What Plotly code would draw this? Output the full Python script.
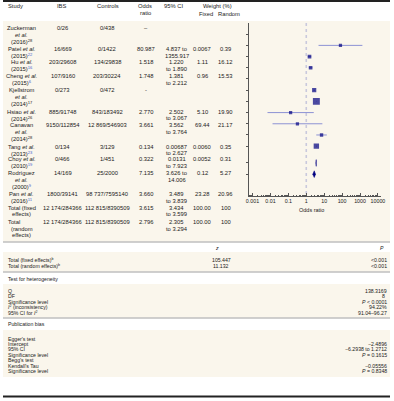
import math
import plotly.graph_objects as go

W, H = 394, 401
FONT = "Liberation Sans, Arial, sans-serif"
TXT = "#1a1a1a"
BEIGE = "#faf6ec"
NAVY = "#000080"
CI_COL = "#8d92d4"
LINK = "#3b5fd0"

# ---------------- data ----------------
study_names = ["Zuckerman", "Patel", "Hu", "Cheng", "Kjellstrom", "Hsiao",
               "Canavan", "Tang", "Choy", "Rodríguez", "Pan"]
study_years = [2016, 2015, 2015, 2015, 2014, 2014, 2014, 2013, 2010, 2000, 2016]
study_refs = [28, 22, 16, 6, 17, 26, 28, 23, 19, 9, 11]
ref_linked = [False, True, True, True, False, False, False, True, True, True, True]

ibs = ["0/26", "16/669", "203/29608", "107/9160", "0/273", "885/91748",
       "9150/112854", "0/134", "0/466", "14/169", "1800/39141"]
controls = ["0/438", "0/1422", "134/29838", "203/30224", "0/472", "843/183492",
            "12 869/546903", "3/129", "1/451", "25/2000", "98 737/7595140"]
odds_text = ["–", "80.987", "1.518", "1.748", "-", "2.770", "3.661", "0.134",
             "0.322", "7.135", "3.660"]
ci_text = [[], ["4.837 to", "1355.917"], ["1.220", "to 1.890"], ["1.381", "to 2.212"],
           [], ["2.502", "to 3.067"], ["3.562", "to 3.764"], ["0.00687", "to 2.627"],
           ["0.0131", "to 7.923"], ["3.626 to", "14.006"], ["3.489", "to 3.839"]]
w_fixed_text = ["", "0.0067", "1.11", "0.96", "", "5.10", "69.44", "0.0060",
                "0.0052", "0.12", "23.28"]
w_random_text = ["", "0.39", "16.12", "15.53", "", "19.90", "21.17", "0.35",
                 "0.31", "5.27", "20.96"]

odds_ratio = [None, 80.987, 1.518, 1.748, None, 2.770, 3.661, 0.134, 0.322, 7.135, 3.660]
ci_low = [None, 4.837, 1.220, 1.381, None, 2.502, 3.562, 0.00687, 0.0131, 3.626, 3.489]
ci_high = [None, 1355.917, 1.890, 2.212, None, 3.067, 3.764, 2.627, 7.923, 14.006, 3.839]
weight_fixed = [None, 0.0067, 1.11, 0.96, None, 5.10, 69.44, 0.0060, 0.0052, 0.12, 23.28]

total_labels = [["Total (fixed", "effects)"], ["Total", "(random", "effects)"]]
total_ibs = ["12 174/284366", "12 174/284366"]
total_controls = ["112 815/8390509", "112 815/8390509"]
total_odds_text = ["3.615", "2.796"]
total_ci_text = [["3.434", "to 3.599"], ["2.305", "to 3.294"]]
total_wf_text = ["100.00", "100.00"]
total_wr_text = ["100", "100"]
total_or = [3.615, 2.796]
total_lo = [3.434, 2.305]
total_hi = [3.599, 3.294]

axis_ticks = [0.001, 0.01, 0.1, 1, 10, 100, 1000, 10000]
axis_labels = ["0.001", "0.01", "0.1", "1", "10", "100", "1000", "10000"]

summary_labels = ["Total (fixed effects)<sup>b</sup>", "Total (random effects)<sup>b</sup>"]
z_vals = ["105.447", "11.132"]
p_vals = ["&lt;0.001", "&lt;0.001"]
het_labels = ["Q", "DF", "Significance level", "<i>I</i><sup>2</sup> (inconsistency)",
              "95% CI for <i>I</i><sup>2</sup>"]
het_vals = ["138.3169", "8", "<i>P</i> &lt; 0.0001", "94.22%", "91.04–96.27"]
pub_labels = ["Egger's test", "Intercept", "95% CI", "Significance level",
              "Begg's test", "Kendall's Tau", "Significance level"]
pub_vals = ["", "−2.4896", "−6.2938 to 1.2712", "<i>P</i> = 0.1615", "",
            "−0.05556", "<i>P</i> = 0.8348"]

# ---------------- figure ----------------
fig = go.Figure()


def px_x(x):
    return x / W


def px_y(y):
    return 1 - y / H


def ann(x, y, text, anchor="center", size=5.8, color=TXT, italic=False):
    fig.add_annotation(x=px_x(x), y=px_y(y), xref="paper", yref="paper", text=text,
                       showarrow=False, xanchor=anchor, yanchor="middle", borderpad=0,
                       font=dict(size=size, color=color, family=FONT,
                                 style="italic" if italic else "normal"))


def band(y0, y1, color):
    fig.add_shape(type="rect", xref="paper", yref="paper", x0=0, x1=1,
                  y0=px_y(y1), y1=px_y(y0), fillcolor=color, line=dict(width=0),
                  layer="below")


def hline(y, color, width):
    fig.add_shape(type="line", xref="paper", yref="paper", x0=0, x1=1,
                  y0=px_y(y), y1=px_y(y), line=dict(color=color, width=width))


# backgrounds & rules
band(21, 241.5, BEIGE)
band(252, 271.5, BEIGE)
band(284, 317.5, BEIGE)
band(330, 377, BEIGE)
hline(1, "#222222", 2)
hline(242, "#a0a0a0", 1)
hline(272, "#a0a0a0", 1)
hline(318, "#a0a0a0", 1)
hline(396.5, "#222222", 2)

# header
ann(4, 6, "Study", "left")
ann(60, 6, "IBS")
ann(107, 6, "Controls")
ann(145, 6, "Odds")
ann(145, 13, "ratio")
ann(174, 6, "95% CI")
ann(218, 6, "Weight (%)")
ann(207, 14, "Fixed")
ann(230, 14, "Random")

# table rows
row_top = [28.3, 49, 62.3, 76.3, 90, 111.7, 125.3, 146.7, 159.3, 173.3, 194.3]
total_top = [207.7, 222]
LS = 6.6
COLS = dict(ibs=61, ctl=106, odds=146, ci=177, wf=203, wr=227, study=19)

for i, name in enumerate(study_names):
    sup = f"<sup>{study_refs[i]}</sup>"
    if ref_linked[i]:
        sup = f"<span style='color:{LINK}'>{sup}</span>"
    year = f"({study_years[i]}){sup}"
    y0 = row_top[i]
    if len(name) > 5:
        ann(COLS["study"], y0, name)
        ann(COLS["study"], y0 + LS, "et al.", italic=True)
        ann(COLS["study"], y0 + 2 * LS, year)
    else:
        ann(COLS["study"], y0, f"{name} <i>et al.</i>")
        ann(COLS["study"], y0 + LS, year)
    ann(COLS["ibs"], y0, ibs[i])
    ann(COLS["ctl"], y0, controls[i])
    ann(COLS["odds"], y0, odds_text[i])
    for k, ln in enumerate(ci_text[i]):
        ann(COLS["ci"], y0 + k * LS, ln)
    if w_fixed_text[i]:
        ann(COLS["wf"], y0, w_fixed_text[i])
        ann(COLS["wr"], y0, w_random_text[i])

for j in range(2):
    y0 = total_top[j]
    for k, ln in enumerate(total_labels[j]):
        if ln == "Total":
            ann(4, y0 + k * LS, ln, "left")
        else:
            ann(COLS["study"], y0 + k * LS, ln)
    ann(COLS["ibs"], y0, total_ibs[j])
    ann(COLS["ctl"], y0, total_controls[j])
    ann(COLS["odds"], y0, total_odds_text[j])
    for k, ln in enumerate(total_ci_text[j]):
        ann(COLS["ci"], y0 + k * LS, ln)
    ann(COLS["wf"], y0, total_wf_text[j])
    ann(COLS["wr"], y0, total_wr_text[j])

# ---------------- forest plot ----------------
rows = list(range(len(study_names)))
total_rows = [len(study_names) + 0.5, len(study_names) + 1.5]

ci_x, ci_y = [], []
for r, lo, hi in zip(rows, ci_low, ci_high):
    if lo is None:
        continue
    ci_x += [lo, hi, None]
    ci_y += [r, r, None]

fig.add_trace(go.Scatter(x=[1, 1], y=[-1.0, 14.45], mode="lines",
                         line=dict(color="#c9c9dd", width=1.6, dash="dot"),
                         hoverinfo="skip", showlegend=False))
fig.add_trace(go.Scatter(x=ci_x, y=ci_y, mode="lines",
                         line=dict(color=CI_COL, width=1), showlegend=False))

mx, my, ms = [], [], []
for r, o, w in zip(rows, odds_ratio, weight_fixed):
    if o is None:
        continue
    mx.append(o)
    my.append(r)
    ms.append(3.2 + 0.45 * math.sqrt(w))
fig.add_trace(go.Scatter(x=mx, y=my, mode="markers",
                         marker=dict(symbol="square", size=ms, color=NAVY, line=dict(width=0)),
                         showlegend=False))

DH = 0.3
for r, o, lo, hi in zip(total_rows, total_or, total_lo, total_hi):
    fig.add_trace(go.Scatter(x=[lo, o, hi, o, lo], y=[r, r - DH, r, r + DH, r],
                             mode="lines", fill="toself", fillcolor=NAVY,
                             line=dict(color=NAVY, width=0.5), showlegend=False))

fig.update_xaxes(type="log", range=[-3.22, 4.18], domain=[250 / W, 385 / W],
                 tickvals=axis_ticks, ticktext=axis_labels,
                 ticks="inside", ticklen=3, tickwidth=0.8, tickcolor="#555",
                 minor=dict(ticks="inside", ticklen=1.5, tickwidth=0.6, tickcolor="#555",
                            dtick="D1", showgrid=False),
                 showline=True, linecolor="#555", linewidth=0.8, showgrid=False,
                 zeroline=False, tickfont=dict(size=5.3, color=TXT, family=FONT),
                 anchor="y")
fig.update_yaxes(range=[14.45, -1.0], domain=[px_y(196), px_y(23)],
                 tickvals=rows + total_rows, showticklabels=False,
                 ticks="outside", ticklen=2, tickwidth=0.8, tickcolor="#555",
                 showline=True, linecolor="#555", linewidth=0.8, showgrid=False,
                 zeroline=False, anchor="x")
ann(314, 210, "Odds ratio", size=5.5)

# ---------------- summary / tests ----------------
BS = 5.2
RX = 392
ann(218, 247.5, "z", size=BS, italic=True)
ann(386, 247.5, "P", size=BS, italic=True)
for k in range(2):
    y = 259.5 + k * 6.3
    ann(4, y, summary_labels[k], "left", size=BS)
    ann(222, y, z_vals[k], size=BS)
    ann(RX, y, p_vals[k], "right", size=BS)

ann(4, 278.5, "Test for heterogeneity", "left", size=BS)
HS = 5.4
for k in range(len(het_labels)):
    y = 291 + k * HS
    ann(4, y, het_labels[k], "left", size=BS)
    if het_vals[k] == "8":
        ann(387, y, het_vals[k], size=BS)
    else:
        ann(RX, y, het_vals[k], "right", size=BS)

ann(4, 324, "Publication bias", "left", size=BS)
for k in range(len(pub_labels)):
    y = 338.5 + k * HS
    ann(4, y, pub_labels[k], "left", size=BS)
    if pub_vals[k]:
        ann(RX, y, pub_vals[k], "right", size=BS)

fig.update_layout(width=W, height=H, margin=dict(l=0, r=0, t=0, b=0),
                  paper_bgcolor="white", plot_bgcolor="rgba(0,0,0,0)",
                  showlegend=False, font=dict(family=FONT, color=TXT))

fig.write_html("out.html", config={"displayModeBar": False})

# remove the browser's default page margin so the figure sits at the window origin
with open("out.html", "r", encoding="utf-8") as f:
    html = f.read()
html = html.replace("<head>", "<head><style>html,body{margin:0;padding:0;overflow:hidden;}</style>", 1)
with open("out.html", "w", encoding="utf-8") as f:
    f.write(html)
